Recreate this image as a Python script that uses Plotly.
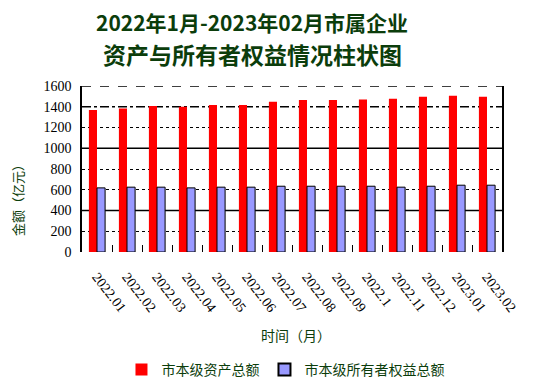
import plotly.graph_objects as go

categories = ["2022.01", "2022.02", "2022.03", "2022.04", "2022.05", "2022.06", "2022.07",
              "2022.08", "2022.09", "2022.1", "2022.11", "2022.12", "2023.01", "2023.02"]
assets = [1368, 1384, 1407, 1400, 1416, 1416, 1449, 1465, 1465, 1471, 1478, 1497, 1507, 1497]
equity = [618, 625, 625, 618, 625, 625, 634, 634, 634, 634, 625, 634, 644, 644]
y_ticks = [0, 200, 400, 600, 800, 1000, 1200, 1400, 1600]

GREEN = "#0B3D0B"
FONT = "Liberation Serif, Noto Sans CJK SC"
CJK = "Noto Sans CJK SC"

fig = go.Figure()
fig.add_trace(go.Bar(x=categories, y=assets, name="市本级资产总额",
                     marker=dict(color="#FF0000", line=dict(width=0))))
fig.add_trace(go.Bar(x=categories, y=equity, name="市本级所有者权益总额",
                     marker=dict(color="#9999FF", line=dict(color="black", width=1))))

# grid line styles
grid_styles = {400: "solid", 1000: "solid", 1400: "dashdot", 1600: "dash"}
for lvl, dash in grid_styles.items():
    fig.add_shape(type="line", xref="paper", x0=0, x1=1, yref="y", y0=lvl, y1=lvl,
                  line=dict(color="black", width=1.5, dash=dash), layer="below")

# the page body adds an 8px margin, so the figure is drawn 8px smaller
fig.update_layout(
    width=534, height=383,
    margin=dict(l=74, r=40, t=78, b=139, autoexpand=False),
    paper_bgcolor="white", plot_bgcolor="white",
    barmode="group", bargap=0.46, bargroupgap=0,
    showlegend=True,
    legend=dict(orientation="h", x=0.094, xanchor="left", y=-0.71, yanchor="middle",
                font=dict(family=CJK, size=14, color=GREEN),
                traceorder="normal", itemsizing="constant"),
    xaxis=dict(tickangle=52, tickfont=dict(family=FONT, size=14, color="black"),
               ticks="inside", tickson="boundaries", ticklen=7, tickcolor="black",
               showline=False, showgrid=False, automargin=False, ticklabelstandoff=13),
    yaxis=dict(range=[0, 1600], tickvals=y_ticks, showgrid=True, gridcolor="black",
               griddash="dot", gridwidth=1, zeroline=False, automargin=False,
               showline=True, mirror=True, linecolor="black", linewidth=1.5,
               tickfont=dict(family=FONT, size=14, color="black"), ticklabelstandoff=6),
    annotations=[
        dict(text="<b>2022年1月-2023年02月市属企业</b>", xref="paper", yref="paper",
             x=0.405, y=1.385, xanchor="center", yanchor="middle", showarrow=False,
             borderpad=0, font=dict(family=CJK, size=21, color=GREEN)),
        dict(text="<b>资产与所有者权益情况柱状图</b>", xref="paper", yref="paper",
             x=0.405, y=1.19, xanchor="center", yanchor="middle", showarrow=False,
             borderpad=0, font=dict(family=CJK, size=23, color=GREEN)),
        dict(text="金额（亿元）", xref="paper", yref="paper", x=-0.155, y=0.33,
             xanchor="center", yanchor="middle", textangle=-90, showarrow=False,
             borderpad=0, font=dict(family=CJK, size=13, color=GREEN)),
        dict(text="时间（月）", xref="paper", yref="paper", x=0.51, y=-0.5,
             xanchor="center", yanchor="middle", showarrow=False,
             borderpad=0, font=dict(family=CJK, size=14, color=GREEN)),
    ],
)

fig.write_html("out.html")
